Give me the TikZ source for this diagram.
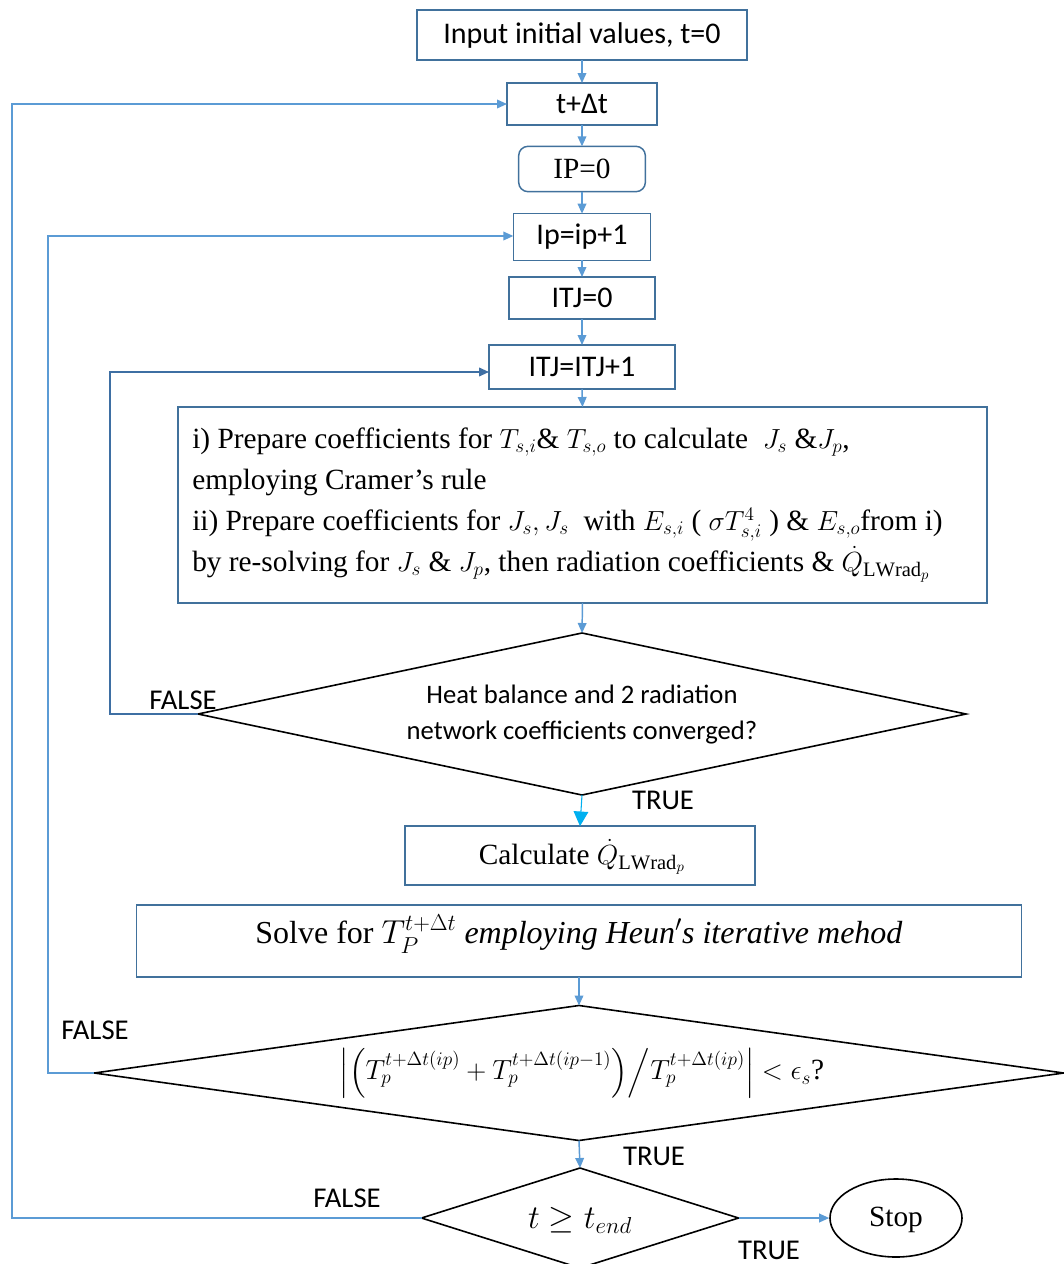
\documentclass[tikz,border=0pt]{standalone}
\usepackage{amsmath}
\usepackage{fontspec}
\setmainfont{Liberation Serif}
\newfontfamily\labelfont{Carlito}
\usetikzlibrary{shapes.geometric,arrows.meta}

\definecolor{boxblue}{HTML}{41719C}
\definecolor{flowblue}{HTML}{5B9BD5}
\definecolor{loopblue}{HTML}{3E6FA3}
\definecolor{truecyan}{HTML}{00B0F0}

\tikzset{
  box/.style={draw=boxblue, line width=1.1pt, inner sep=0pt, outer sep=0pt},
  dia/.style={draw=black, line width=1.2pt, diamond, inner sep=0pt, outer sep=0pt},
  flow/.style={draw=flowblue, line width=1.1pt, -{Triangle[length=7.5pt,width=6.5pt]}},
  innerloop/.style={draw=loopblue, line width=1.3pt, -{Triangle[length=7.5pt,width=6.5pt]}},
  trueflow/.style={draw=truecyan, line width=0.8pt, -{Triangle[length=11pt,width=11pt]}},
  sanslab/.style={font=\labelfont\fontsize{22.5}{27}\selectfont},
  flag/.style={font=\labelfont\fontsize{21.5}{26}\selectfont, inner sep=0pt},
  serif/.style={font=\fontsize{22}{30.75}\selectfont}
}

\begin{document}
\begin{tikzpicture}[x=0.75pt,y=-0.75pt]
\clip (0,0) rectangle (1064,1264);
\fill[white] (0,0) rectangle (1064,1264);

% main column of steps
\node[box, sanslab, minimum width=247.5pt, minimum height=37.5pt] (inp) at (582,35) {Input initial values, t=0};
\node[box, sanslab, minimum width=112.5pt, minimum height=31.5pt] (tdt) at (582,104) {t+Δt};
\node[box, serif, rounded corners=7pt, minimum width=95pt, minimum height=34pt] (ip0) at (582,169) {IP=0};
\node[box, sanslab, minimum width=103pt, minimum height=35pt] (ipinc) at (582,237) {Ip=ip+1};
\node[box, sanslab, minimum width=109.5pt, minimum height=31.5pt] (itj0) at (582,298) {ITJ=0};
\node[box, sanslab, minimum width=139.5pt, minimum height=33pt] (itjinc) at (582,367) {ITJ=ITJ+1};

\node[box, minimum width=607pt, minimum height=147pt] (prep) at (582.5,505) {};
\node[serif, align=left, anchor=west, inner sep=0pt] (preptxt) at (192,505)
{i) Prepare coefficients for $T_{s,i}$\& $T_{s,o}$ to calculate\ \ $J_s$ \&$J_p$,\\
employing Cramer’s rule\\
ii) Prepare coefficients for $J_s, J_s$\ \ with $E_{s,i}$ ( $\sigma T_{s,i}^{4}$ ) \& $E_{s,o}$from i)\\
by re-solving for $J_s$ \& $J_p$, then radiation coefficients \& $\dot{Q}_{\mathrm{LWrad}_p}$};

% inner convergence test
\node[dia, minimum width=576pt, minimum height=121.5pt] (conv) at (582,714) {};
\node[align=center, font=\labelfont\fontsize{20}{27}\selectfont] (convtxt) at (582,715)
{Heat balance and 2 radiation\\ network coefficients converged?};

\node[box, minimum width=262.5pt, minimum height=44pt] (calc) at (580,855.5) {};
\node[serif] (calctxt) at (582,857) {Calculate $\dot{Q}_{\mathrm{LWrad}_p}$};

\node[box, minimum width=664pt, minimum height=54pt] (solve) at (579,941) {};
\node[font=\fontsize{24}{28}\selectfont] (solvetxt) at (579,934)
{Solve for $T_P^{t+\Delta t}$ \textit{employing Heun$'$s iterative mehod}};

% outer convergence test
\node[dia, minimum width=727pt, minimum height=101.25pt] (conv2) at (579,1073) {};
\node[font=\fontsize{22}{26}\selectfont] (conv2txt) at (582,1073)
{$\Bigl|\Bigl(T_p^{t+\Delta t(ip)}+T_p^{t+\Delta t(ip-1)}\Bigr)\Big/T_p^{t+\Delta t(ip)}\Bigr|<\epsilon_s$?};

% end-of-time test
\node[dia, minimum width=237.75pt, minimum height=75pt] (tend) at (580,1218) {};
\node[font=\fontsize{24}{28}\selectfont] (tendtxt) at (580,1220) {$t\geq t_{end}$};

\node[draw=black, line width=1.2pt, ellipse, minimum width=99pt, minimum height=58.5pt,
      inner sep=0pt] (stop) at (896,1218) {};
\node[serif] (stoptxt) at (896,1220) {Stop};

% forward connectors
\draw[flow] (inp.south) -- (tdt.north);
\draw[flow] (tdt.south) -- (ip0.north);
\draw[flow] (ip0.south) -- (ipinc.north);
\draw[flow] (ipinc.south) -- (itj0.north);
\draw[flow] (itj0.south) -- (itjinc.north);
\draw[flow] (itjinc.south) -- (prep.north);
\draw[flow] (prep.south) -- (conv.north);
\draw[trueflow] (conv.south) -- (calc.north);
\draw[flow] (solve.south) -- (conv2.north);
\draw[flow] (conv2.south) -- (tend.north);
\draw[flow] (tend.east) -- (stop.west);

% loop-back connectors
\coordinate (lpI) at (110,372);
\coordinate (lpM) at (48,236);
\coordinate (lpT) at (12,104);
\draw[innerloop] (conv.west) -| (lpI) -- (lpI -| itjinc.west);
\draw[flow] (conv2.west) -| (lpM) -- (lpM -| ipinc.west);
\draw[flow] (tend.west) -| (lpT) -- (tdt.west);

% branch labels
\node[flag] (f1) at (183,700) {FALSE};
\node[flag] (t1) at (663,800) {TRUE};
\node[flag] (f2) at (95,1030) {FALSE};
\node[flag] (t2) at (654,1156) {TRUE};
\node[flag] (f3) at (347,1198) {FALSE};
\node[flag] (t3) at (769,1250) {TRUE};
\end{tikzpicture}
\end{document}
